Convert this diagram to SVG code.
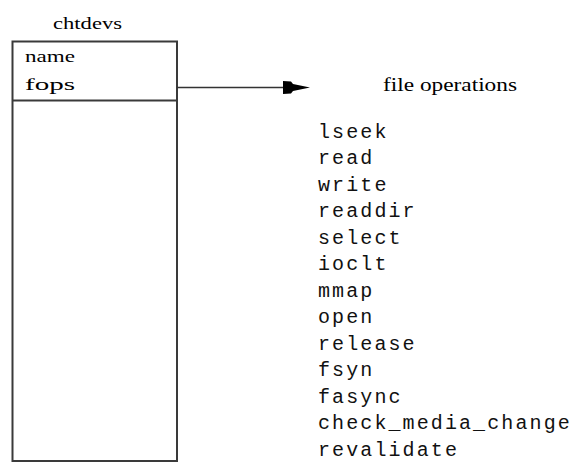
<svg xmlns="http://www.w3.org/2000/svg" width="574" height="463" viewBox="0 0 574 463">
<style>
.serif{font-family:"Liberation Serif","Times New Roman",serif;fill:#000}
.mono{font-family:"Liberation Mono","Courier New",monospace;font-size:20px;letter-spacing:2.1px;fill:#111}
.box{fill:#fff;stroke:#3a3a3a;stroke-width:2}
.line{stroke:#333;stroke-width:1.5;fill:none}
</style>
<rect width="574" height="463" fill="#fff"/>
<g id="chtdevs">
<text class="serif" x="53" y="29" font-size="17" textLength="69" lengthAdjust="spacingAndGlyphs">chtdevs</text>
<rect class="box" x="12.5" y="41.5" width="164.5" height="419.5"/>
<line class="box" x1="12.5" y1="100.5" x2="177" y2="100.5"/>
<text class="serif" x="25" y="62" font-size="17" textLength="50" lengthAdjust="spacingAndGlyphs">name</text>
<text class="serif" x="25" y="90" font-size="17" textLength="50" lengthAdjust="spacingAndGlyphs">fops</text>
</g>
<g id="file-operations">
<text class="serif" x="383" y="91" font-size="19" textLength="134" lengthAdjust="spacingAndGlyphs">file operations</text>
<text class="mono" x="318" y="137.5">lseek</text>
<text class="mono" x="318" y="164">read</text>
<text class="mono" x="318" y="190.5">write</text>
<text class="mono" x="318" y="217">readdir</text>
<text class="mono" x="318" y="243.5">select</text>
<text class="mono" x="318" y="270">ioclt</text>
<text class="mono" x="318" y="296.5">mmap</text>
<text class="mono" x="318" y="323">open</text>
<text class="mono" x="318" y="349.5">release</text>
<text class="mono" x="318" y="376">fsyn</text>
<text class="mono" x="318" y="402.5">fasync</text>
<text class="mono" x="318" y="429">check_media_change</text>
<text class="mono" x="318" y="455.5">revalidate</text>
</g>
<g id="connectors">
<line class="line" x1="177" y1="87.5" x2="284" y2="87.5"/>
<path d="M283 81 L291 81.5 L293 84 L310 87.5 L293 91 L291 93.5 L283 94 Z" fill="#000"/>
</g>
</svg>
